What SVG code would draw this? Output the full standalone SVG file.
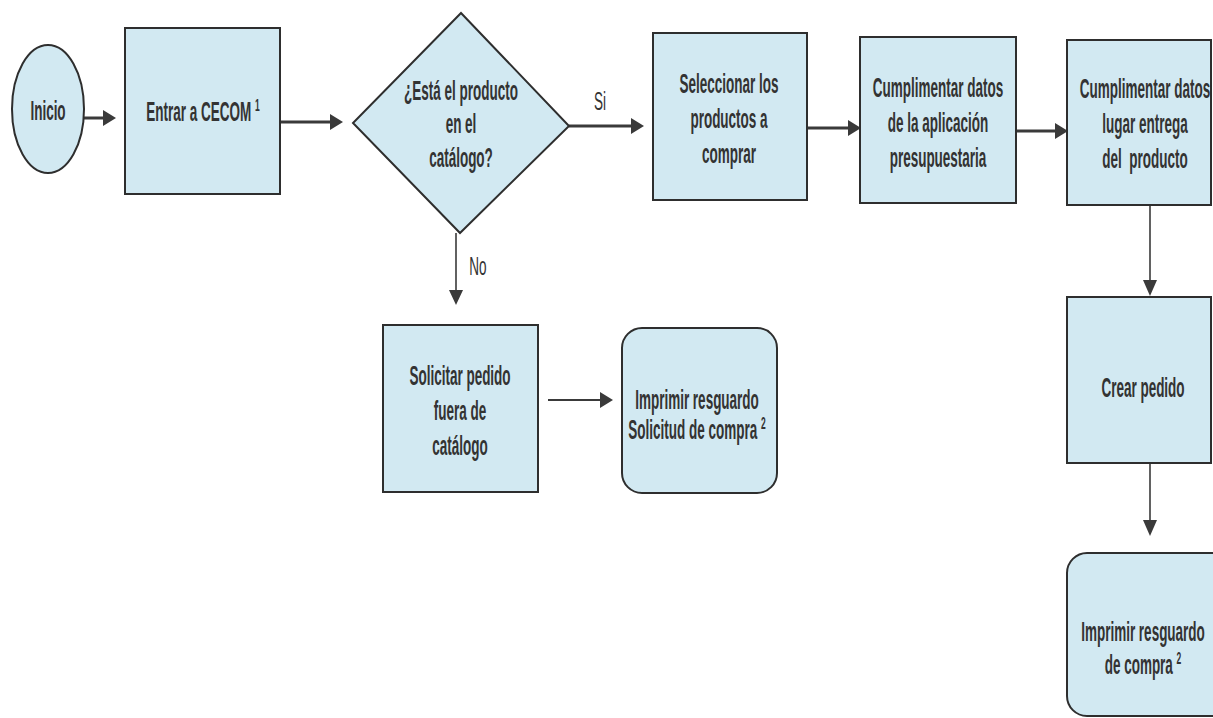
<svg xmlns="http://www.w3.org/2000/svg" width="1213" height="718" viewBox="0 0 1213 718">
  <defs>
    <style>
      .box { fill: #d2e9f2; stroke: #2e2e2e; stroke-width: 2; }
      .t { font-family: "Liberation Sans", Arial, sans-serif; font-weight: bold; font-size: 27px; fill: #333333; text-anchor: middle; }
      .lbl { font-family: "Liberation Sans", Arial, sans-serif; font-size: 26px; fill: #333333; text-anchor: middle; }
      .sup { font-size: 17px; }
      .thick { stroke: #3a3a3a; stroke-width: 3; fill: none; }
      .thin { stroke: #3a3a3a; stroke-width: 1.6; fill: none; }
      .head { fill: #3a3a3a; }
    </style>
  </defs>
  <rect width="1213" height="718" fill="#ffffff"/>

  <!-- connectors -->
  <g id="connectors">
    <line class="thick" x1="84" y1="118" x2="104" y2="118"/>
    <polygon class="head" points="116,118 103,110 103,126"/>

    <line class="thick" x1="281" y1="122" x2="331" y2="122"/>
    <polygon class="head" points="343,122 330,114 330,130"/>

    <line class="thick" x1="569" y1="126" x2="632" y2="126"/>
    <polygon class="head" points="644,126 631,118 631,134"/>
    <text class="lbl" transform="translate(600 110) scale(0.52 1)">Si</text>

    <line class="thick" x1="807" y1="128" x2="849" y2="128"/>
    <polygon class="head" points="861,128 848,120 848,136"/>

    <line class="thick" x1="1016" y1="131" x2="1056" y2="131"/>
    <polygon class="head" points="1068,131 1055,123 1055,139"/>

    <line class="thin" x1="456" y1="233" x2="456" y2="292"/>
    <polygon class="head" points="456,305 449,290 463,290"/>
    <text class="lbl" transform="translate(478 275) scale(0.52 1)">No</text>

    <line class="thick" x1="548" y1="400" x2="601" y2="400" style="stroke-width:2.2"/>
    <polygon class="head" points="613,400 600,392 600,408"/>

    <line class="thin" x1="1150" y1="205" x2="1150" y2="282"/>
    <polygon class="head" points="1150,296 1143,280 1157,280"/>

    <line class="thin" x1="1150" y1="463" x2="1150" y2="522"/>
    <polygon class="head" points="1150,536 1143,520 1157,520"/>
  </g>

  <!-- start -->
  <g id="inicio">
    <ellipse class="box" cx="48" cy="109" rx="36" ry="64"/>
    <text class="t" transform="translate(48 120) scale(0.5 1)">Inicio</text>
  </g>

  <g id="entrar">
    <rect class="box" x="125" y="28" width="155" height="166"/>
    <text class="t" transform="translate(203 121) scale(0.5 1)">Entrar a CECOM <tspan class="sup" dy="-10">1</tspan></text>
  </g>

  <!-- decision -->
  <g id="decision">
    <polygon class="box" points="461,13 569,126 460,233 353,123"/>
    <text class="t" transform="translate(461 100) scale(0.5 1)">¿Está el producto</text>
    <text class="t" transform="translate(461 133) scale(0.5 1)">en el</text>
    <text class="t" transform="translate(461 167) scale(0.5 1)">catálogo?</text>
  </g>

  <g id="seleccionar">
    <rect class="box" x="653" y="33" width="154" height="167"/>
    <text class="t" transform="translate(729 93) scale(0.5 1)">Seleccionar los</text>
    <text class="t" transform="translate(729 128) scale(0.5 1)">productos a</text>
    <text class="t" transform="translate(729 163) scale(0.5 1)">comprar</text>
  </g>

  <g id="datos-aplicacion">
    <rect class="box" x="860" y="37" width="156" height="166"/>
    <text class="t" transform="translate(938 97) scale(0.5 1)">Cumplimentar datos</text>
    <text class="t" transform="translate(938 132) scale(0.5 1)">de la aplicación</text>
    <text class="t" transform="translate(938 167) scale(0.5 1)">presupuestaria</text>
  </g>

  <g id="datos-entrega">
    <rect class="box" x="1067" y="40" width="144" height="165"/>
    <text class="t" transform="translate(1145 98) scale(0.5 1)">Cumplimentar datos</text>
    <text class="t" transform="translate(1145 133) scale(0.5 1)">lugar entrega</text>
    <text class="t" transform="translate(1145 168) scale(0.5 1)" xml:space="preserve">del  producto</text>
  </g>

  <g id="crear-pedido">
    <rect class="box" x="1067" y="297" width="144" height="166"/>
    <text class="t" transform="translate(1143 397) scale(0.5 1)">Crear pedido</text>
  </g>

  <g id="resguardo-compra">
    <rect class="box" x="1067" y="553" width="170" height="163" rx="20" ry="20"/>
    <text class="t" transform="translate(1143 641) scale(0.5 1)">Imprimir resguardo</text>
    <text class="t" transform="translate(1143 674) scale(0.5 1)">de compra <tspan class="sup" dy="-10">2</tspan></text>
  </g>

  <g id="solicitar">
    <rect class="box" x="383" y="325" width="155" height="167"/>
    <text class="t" transform="translate(460 385) scale(0.5 1)">Solicitar pedido</text>
    <text class="t" transform="translate(460 420) scale(0.5 1)">fuera de</text>
    <text class="t" transform="translate(460 455) scale(0.5 1)">catálogo</text>
  </g>

  <g id="resguardo-solicitud">
    <rect class="box" x="622" y="328" width="155" height="165" rx="20" ry="20"/>
    <text class="t" transform="translate(697 409) scale(0.5 1)">Imprimir resguardo</text>
    <text class="t" transform="translate(697 439) scale(0.5 1)">Solicitud de compra <tspan class="sup" dy="-10">2</tspan></text>
  </g>
</svg>
